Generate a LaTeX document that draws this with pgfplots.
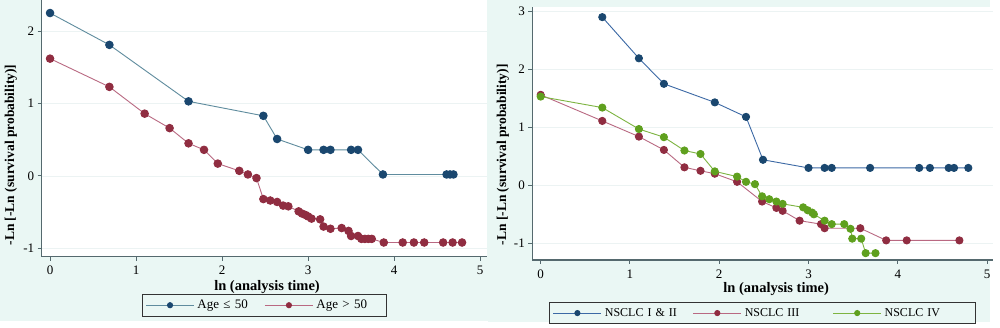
\documentclass[border=0pt]{standalone}
\usepackage{pgfplots}
\pgfplotsset{compat=1.18}
\usepackage{fontspec}
\setmainfont{Liberation Serif}
\definecolor{mint}{RGB}{234,247,244}
\definecolor{axcol}{RGB}{85,105,110}
\definecolor{gridc}{RGB}{236,243,243}
\definecolor{navyM}{RGB}{26,71,111}
\definecolor{navyL}{RGB}{95,140,158}
\definecolor{navyL2}{RGB}{60,105,165}
\definecolor{marM}{RGB}{144,45,65}
\definecolor{marL}{RGB}{185,105,130}
\definecolor{grnM}{RGB}{95,160,30}
\definecolor{grnL}{RGB}{125,180,65}

\pgfplotstableread{
x y
0 2.25
0.69 1.81
1.61 1.03
2.48 0.83
2.64 0.51
3.00 0.36
3.18 0.36
3.26 0.36
3.50 0.36
3.58 0.36
3.87 0.02
4.61 0.02
4.65 0.02
4.69 0.02
}\youngtab
\pgfplotstableread{
x y
0 1.62
0.69 1.23
1.10 0.86
1.39 0.66
1.61 0.45
1.79 0.36
1.95 0.17
2.20 0.07
2.30 0.02
2.40 -0.03
2.48 -0.32
2.56 -0.34
2.64 -0.36
2.71 -0.41
2.77 -0.42
2.89 -0.49
2.93 -0.52
2.97 -0.54
3.00 -0.56
3.04 -0.59
3.14 -0.60
3.18 -0.70
3.26 -0.73
3.39 -0.72
3.47 -0.76
3.50 -0.83
3.58 -0.83
3.62 -0.87
3.66 -0.87
3.70 -0.87
3.74 -0.87
3.88 -0.92
4.10 -0.92
4.23 -0.92
4.35 -0.92
4.57 -0.92
4.68 -0.92
4.79 -0.92
}\oldtab
\pgfplotstableread{
x y
0.69 2.90
1.10 2.19
1.38 1.75
1.95 1.43
2.30 1.18
2.49 0.44
3.00 0.30
3.18 0.30
3.26 0.30
3.69 0.30
4.24 0.30
4.36 0.30
4.57 0.30
4.63 0.30
4.79 0.30
}\stageAtab
\pgfplotstableread{
x y
0 1.56
0.69 1.11
1.10 0.84
1.38 0.61
1.61 0.31
1.79 0.25
1.95 0.20
2.20 0.06
2.48 -0.28
2.64 -0.39
2.71 -0.44
2.90 -0.61
3.14 -0.67
3.18 -0.74
3.58 -0.74
3.87 -0.95
4.10 -0.95
4.69 -0.95
}\stageBtab
\pgfplotstableread{
x y
0 1.53
0.69 1.34
1.10 0.97
1.38 0.83
1.61 0.60
1.79 0.54
1.95 0.24
2.20 0.15
2.30 0.06
2.40 0.02
2.48 -0.19
2.56 -0.24
2.64 -0.28
2.71 -0.32
2.94 -0.38
2.99 -0.43
3.04 -0.47
3.06 -0.50
3.18 -0.61
3.26 -0.67
3.40 -0.67
3.47 -0.75
3.49 -0.92
3.59 -0.92
3.64 -1.17
3.75 -1.17
}\stageCtab

\pgfplotsset{
  legend image code/.code={\draw[mark repeat=2,mark phase=2,#1] plot coordinates {(0pt,0pt) (24pt,0pt) (48pt,0pt)};},
  stataax/.style={
    scale only axis,
    axis x line*=bottom, axis y line*=left,
    axis line style={axcol, line width=1.2pt},
    every tick/.style={axcol, line width=1pt},
    tick align=outside, major tick length=4pt,
    ymajorgrids, grid style={gridc, line width=0.8pt},
    xtick={0,1,2,3,4,5},
    /pgf/number format/assume math mode=true,
    tick label style={font=\fontsize{13}{15}\selectfont},
    xticklabel style={yshift=-2pt},
    xlabel style={font=\fontsize{14.5}{16}\selectfont\bfseries},
    ylabel style={font=\fontsize{13.5}{15}\selectfont\bfseries},
    clip=false,
    axis background/.style={fill=white},
    legend image post style={mark size=2.6pt},
    legend style={draw=black!80, line width=1pt, fill=mint, inner sep=3pt,
      legend columns=-1},
  },
}

\begin{document}
\begin{tikzpicture}
\path[use as bounding box] (0pt,0pt) rectangle (1000pt,328pt);
\fill[white] (0pt,0pt) rectangle (1000pt,328pt);
\fill[mint] (0pt,7pt) rectangle (488pt,328pt);
\fill[mint] (488pt,6pt) rectangle (990pt,328pt);

\begin{axis}[stataax,
  at={(41.7pt,71.3pt)}, anchor=south west,
  width=445.3pt, height=256.7pt,
  xmin=-0.097, xmax=5.08, ymin=-1.116, ymax=2.43,
  ytick={-1,0,1,2},
  xlabel={ln (analysis time)},
  ylabel={-Ln [-Ln (survival probability)]},
  xlabel style={at={(axis description cs:0.506,-0.118)}, anchor=center},
  ylabel style={at={(axis description cs:-0.069,0.396)}, anchor=center, rotate=0},
  legend style={at={(axis description cs:0.5003,-0.189)}, anchor=center,
    font=\fontsize{13}{15}\selectfont,
    nodes={inner sep=3pt, text width=64pt, align=left}},
]
\addplot[navyL, line width=0.9pt, mark=*, mark size=3.8pt, mark options={fill=navyM, draw=navyM}] table {\youngtab};
\addlegendentry{Age ≤ 50}
\addplot[marL, line width=0.9pt, mark=*, mark size=3.8pt, mark options={fill=marM, draw=marM}] table {\oldtab};
\addlegendentry{Age > 50}
\end{axis}

\begin{axis}[stataax,
  at={(532.3pt,68pt)}, anchor=south west,
  width=461pt, height=253.3pt,
  xmin=-0.094, xmax=5.07, ymin=-1.288, ymax=3.08,
  ytick={-1,0,1,2,3},
  xlabel={ln (analysis time)},
  ylabel={-Ln [-Ln (survival probability)]},
  xlabel style={at={(axis description cs:0.529,-0.114)}, anchor=center},
  ylabel style={at={(axis description cs:-0.0636,0.415)}, anchor=center, rotate=0},
  legend style={at={(axis description cs:0.5,-0.2095)}, anchor=center,
    font=\fontsize{12}{14}\selectfont,
    nodes={inner sep=3pt, text width=85pt, align=left}},
]
\addplot[navyL2, line width=0.9pt, mark=*, mark size=3.6pt, mark options={fill=navyM, draw=navyM}] table {\stageAtab};
\addlegendentry{NSCLC I \& II}
\addplot[marL, line width=0.9pt, mark=*, mark size=3.6pt, mark options={fill=marM, draw=marM}] table {\stageBtab};
\addlegendentry{NSCLC III}
\addplot[grnL, line width=0.9pt, mark=*, mark size=3.6pt, mark options={fill=grnM, draw=grnM}] table {\stageCtab};
\addlegendentry{NSCLC IV}
\end{axis}
\end{tikzpicture}
\end{document}
